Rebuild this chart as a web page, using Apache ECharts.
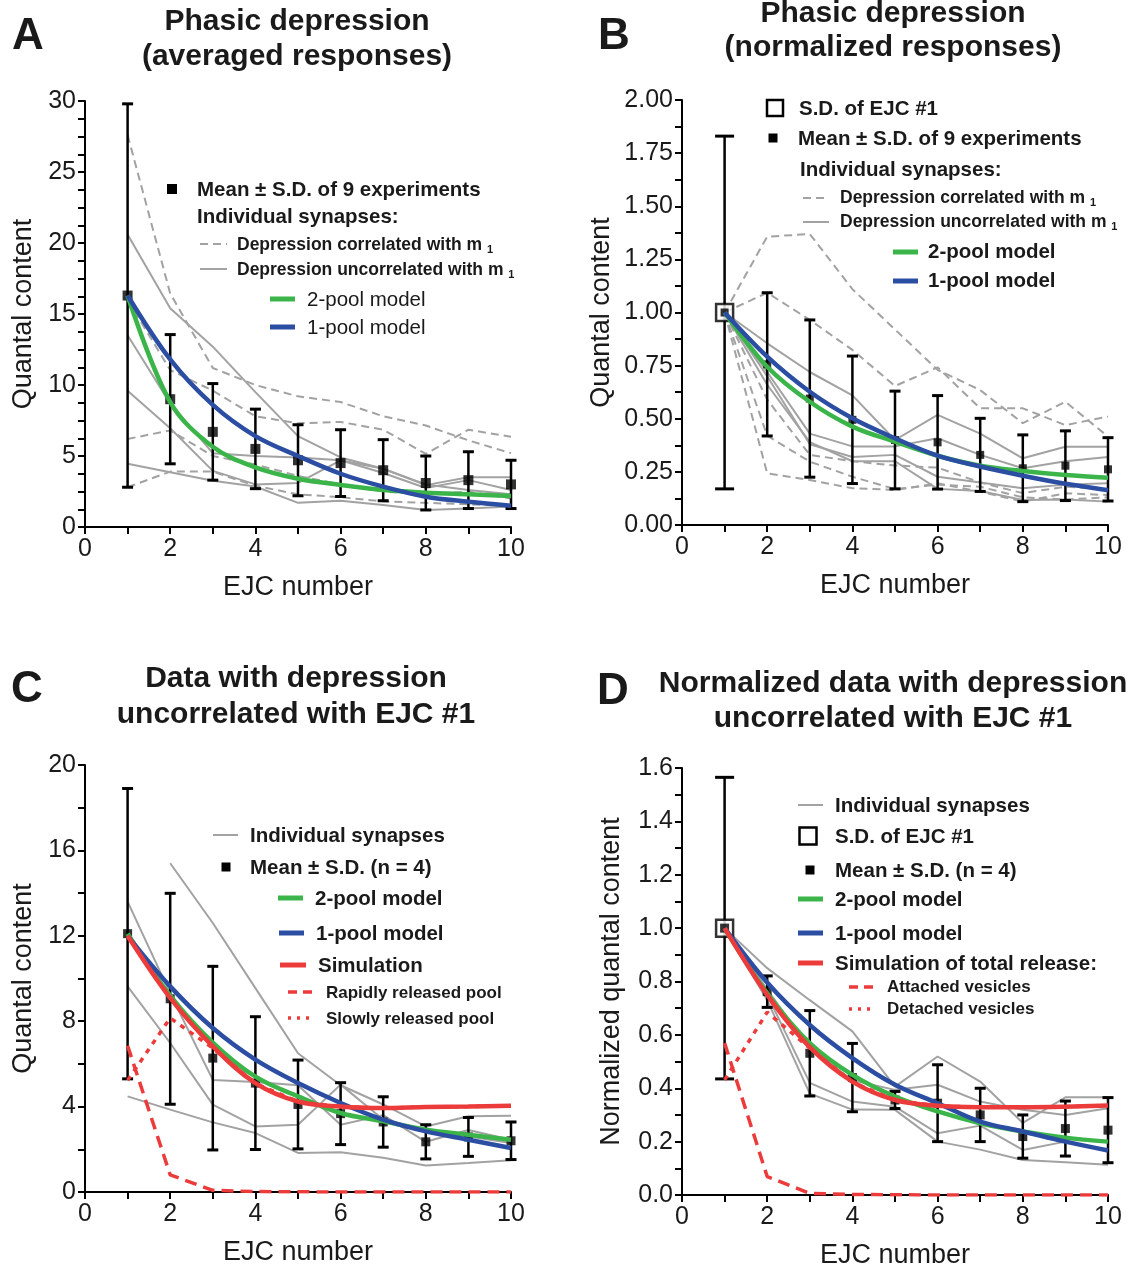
<!DOCTYPE html>
<html><head><meta charset="utf-8">
<script src="https://cdn.jsdelivr.net/npm/echarts/dist/echarts.min.js"></script>
<style>html,body{margin:0;padding:0;background:#fff}#c{width:1133px;height:1270px}</style>
</head><body><div id="c"></div>
<script>
// ---------- DATA ----------
const X = [1, 2, 3, 4, 5, 6, 7, 8, 9, 10];

// Panel A: averaged responses
const aMean = [16.3, 9.0, 6.7, 5.5, 4.7, 4.5, 4.0, 3.1, 3.3, 3.0];
const aSD = [13.5, 4.55, 3.4, 2.8, 2.5, 2.35, 2.15, 1.9, 2.0, 1.7];
const aTwoPool = [16.3, 8.8, 5.65, 4.2, 3.4, 2.96, 2.6, 2.42, 2.3, 2.18];
const aOnePool = [16.3, 11.8, 8.6, 6.4, 5.0, 3.75, 2.84, 2.13, 1.78, 1.5];
const aCorr1 = [27.6, 16.45, 11.2, 10.0, 9.2, 8.8, 7.8, 7.15, 6.1, 5.2];
const aCorr2 = [16.0, 11.05, 9.6, 7.8, 7.3, 7.4, 6.85, 5.15, 6.85, 6.35];
const aCorr3 = [6.2, 6.8, 5.0, 4.4, 3.6, 3.0, 2.5, 2.3, 2.5, 2.0];
const aCorr4 = [2.8, 3.9, 3.9, 2.9, 2.3, 2.1, 1.8, 1.7, 1.6, 1.5];
const aUnc1 = [20.6, 15.4, 12.7, 9.5, 6.4, 4.9, 4.1, 2.95, 3.5, 3.5];
const aUnc2 = [13.5, 8.7, 5.2, 5.0, 4.9, 4.7, 3.8, 2.75, 3.3, 2.6];
const aUnc3 = [9.6, 6.95, 3.95, 3.0, 3.1, 4.7, 4.1, 3.0, 2.6, 2.3];
const aUnc4 = [4.45, 3.85, 3.25, 2.85, 1.7, 1.85, 1.55, 1.2, 1.3, 1.45];

// Panel B: normalized responses
const bMean = [1.0, 0.756, 0.595, 0.495, 0.40, 0.389, 0.33, 0.267, 0.279, 0.262];
const bSD = [0.83, 0.337, 0.37, 0.30, 0.23, 0.22, 0.172, 0.157, 0.164, 0.149];
const bTwoPool = [1.0, 0.745, 0.58, 0.463, 0.392, 0.326, 0.279, 0.254, 0.235, 0.222];
const bOnePool = [1.0, 0.792, 0.627, 0.502, 0.408, 0.326, 0.275, 0.232, 0.194, 0.164];
const bCorr1 = [1, 1.357, 1.369, 1.11, 0.92, 0.73, 0.635, 0.479, 0.58, 0.416];
const bCorr2 = [1, 1.093, 0.965, 0.824, 0.654, 0.742, 0.549, 0.549, 0.47, 0.51];
const bCorr3 = [1, 0.42, 0.298, 0.227, 0.169, 0.19, 0.18, 0.13, 0.12, 0.13];
const bCorr4 = [1, 0.243, 0.212, 0.173, 0.165, 0.196, 0.157, 0.11, 0.149, 0.141];
const bCorr5 = [1, 0.59, 0.33, 0.30, 0.28, 0.27, 0.2, 0.15, 0.18, 0.17];
const bUnc1 = [1, 0.855, 0.72, 0.61, 0.40, 0.518, 0.43, 0.314, 0.368, 0.368];
const bUnc2 = [1, 0.72, 0.43, 0.37, 0.37, 0.408, 0.33, 0.267, 0.30, 0.32];
const bUnc3 = [1, 0.70, 0.38, 0.32, 0.33, 0.227, 0.20, 0.173, 0.19, 0.196];
const bUnc4 = [1, 0.66, 0.39, 0.30, 0.30, 0.17, 0.16, 0.118, 0.12, 0.11];

// Panel C: depression uncorrelated with EJC #1
const cMean = [12.1, 9.05, 6.27, 5.1, 4.1, 3.67, 3.28, 2.35, 2.58, 2.4];
const cSD = [6.8, 4.94, 4.3, 3.11, 2.08, 1.45, 1.18, 0.8, 0.91, 0.88];
const cTwoPool = [12.1, 9.2, 7.0, 5.4, 4.48, 3.7, 3.31, 2.92, 2.68, 2.45];
const cOnePool = [12.0, 9.63, 7.68, 6.2, 5.1, 4.17, 3.39, 2.84, 2.45, 2.06];
const cSim = [12.0, 9.09, 6.82, 5.1, 4.24, 4.0, 3.93, 3.98, 4.0, 4.04];
const cRapid = [6.85, 0.8, 0.08, 0.02, 0.01, 0, 0, 0, 0, 0];
const cSlow = [5.23, 8.15, 6.74, 5.08, 4.23, 4.0, 3.93, 3.98, 4.0, 4.04];
const cUnc1 = [null, 15.4, 12.6, 9.55, 6.5, 5.0, 4.1, 3.07, 3.55, 3.57];
const cUnc2 = [13.6, 9.3, 5.25, 5.15, 5.0, 3.15, 3.6, 2.35, 2.9, 2.45];
const cUnc3 = [9.63, 6.98, 4.09, 3.07, 3.15, 5.03, 3.4, 2.84, 2.6, 2.3];
const cUnc4 = [4.48, 3.86, 3.26, 2.76, 1.83, 1.86, 1.6, 1.24, 1.36, 1.49];

// Panel D: normalized data uncorrelated with EJC #1
const dMean = [1.0, 0.762, 0.531, 0.44, 0.356, 0.344, 0.30, 0.219, 0.249, 0.243];
const dSD = [0.565, 0.059, 0.16, 0.128, 0.032, 0.144, 0.10, 0.081, 0.103, 0.122];
const dTwoPool = [1.0, 0.756, 0.569, 0.45, 0.369, 0.313, 0.269, 0.238, 0.215, 0.2];
const dOnePool = [1.0, 0.796, 0.637, 0.513, 0.413, 0.344, 0.275, 0.238, 0.2, 0.167];
const dSim = [1.0, 0.75, 0.554, 0.425, 0.356, 0.334, 0.329, 0.329, 0.331, 0.335];
const dAttached = [0.569, 0.069, 0.006, 0.002, 0.001, 0, 0, 0, 0, 0];
const dDetached = [0.431, 0.685, 0.55, 0.423, 0.355, 0.334, 0.329, 0.329, 0.331, 0.335];
const dUnc1 = [1, 0.85, 0.73, 0.613, 0.406, 0.519, 0.425, 0.27, 0.366, 0.366];
const dUnc2 = [1, 0.77, 0.55, 0.43, 0.394, 0.413, 0.35, 0.319, 0.30, 0.325];
const dUnc3 = [1, 0.75, 0.42, 0.35, 0.331, 0.231, 0.26, 0.169, 0.20, 0.17];
const dUnc4 = [1, 0.73, 0.38, 0.32, 0.319, 0.20, 0.17, 0.131, 0.123, 0.113];

// ---------- STYLE ----------
const FONT = '"Liberation Sans", Arial, Helvetica, sans-serif';
const GRAY = '#a2a2a2', GREEN = '#3bb54a', BLUE = '#2b4ea2', RED = '#ec3b3b', INK = '#1a1a1a';
const GDASH = [8, 5], RDASH = [12, 7], RDOT = [5, 6];

const grids = [
  {left: 85, top: 101, width: 426, height: 426},
  {left: 682, top: 100, width: 426, height: 425},
  {left: 85, top: 765, width: 426, height: 427},
  {left: 682, top: 768, width: 426, height: 427}
];

function xAx(g) {
  return {
    type: 'value', gridIndex: g, min: 0, max: 10, interval: 1,
    axisLine: {lineStyle: {color: '#000', width: 2}},
    axisTick: {length: 7, lineStyle: {color: '#000', width: 2}},
    axisLabel: {formatter: v => (v % 2 === 0 ? String(v) : ''), fontSize: 25, color: INK, fontFamily: FONT, margin: 10},
    splitLine: {show: false},
    name: 'EJC number', nameLocation: 'middle', nameGap: 47,
    nameTextStyle: {fontSize: 27, color: INK, fontFamily: FONT}
  };
}
function yAx(g, max, interval, minorSplit, name, dec, gap) {
  return {
    type: 'value', gridIndex: g, min: 0, max: max, interval: interval,
    axisLine: {show: true, lineStyle: {color: '#000', width: 2}},
    axisTick: {show: true, length: 7, lineStyle: {color: '#000', width: 2}},
    minorTick: {show: true, splitNumber: minorSplit, length: 7, lineStyle: {color: '#000', width: 2}},
    axisLabel: {formatter: v => v.toFixed(dec), fontSize: 25, color: INK, fontFamily: FONT, margin: 9},
    splitLine: {show: false},
    name: name, nameLocation: 'middle', nameGap: gap, nameRotate: 90,
    nameTextStyle: {fontSize: 27, color: INK, fontFamily: FONT}
  };
}

function pts(arr) { return X.map((x, i) => [x, arr[i]]); }
function ln(g, arr, color, width, dash, smooth, z) {
  return {
    type: 'line', xAxisIndex: g, yAxisIndex: g, data: pts(arr), symbol: 'none', showSymbol: false,
    smooth: smooth ? 0.35 : false, connectNulls: false,
    lineStyle: {color: color, width: width, type: dash || 'solid'}, z: z, silent: true, animation: false
  };
}
function errBars(g, mean, sd, firstCap) {
  return {
    type: 'custom', xAxisIndex: g, yAxisIndex: g, z: 4, silent: true, animation: false,
    encode: {x: 0, y: [1, 2]},
    data: X.map((x, i) => [x, mean[i] - sd[i], mean[i] + sd[i], i]),
    renderItem: function (params, api) {
      const x = api.value(0), lo = api.value(1), hi = api.value(2), i = api.value(3);
      const a = api.coord([x, lo]), b = api.coord([x, hi]);
      const w = (i === 0 && firstCap) ? firstCap : 5.5;
      return {type: 'group', children: [
        {type: 'line', shape: {x1: a[0], y1: a[1], x2: b[0], y2: b[1]}, style: {stroke: '#000', lineWidth: 2.5}},
        {type: 'line', shape: {x1: a[0] - w, y1: a[1], x2: a[0] + w, y2: a[1]}, style: {stroke: '#000', lineWidth: 3}},
        {type: 'line', shape: {x1: b[0] - w, y1: b[1], x2: b[0] + w, y2: b[1]}, style: {stroke: '#000', lineWidth: 3}}
      ]};
    }
  };
}
function means(g, mean, size) {
  return {type: 'scatter', xAxisIndex: g, yAxisIndex: g, data: pts(mean), symbol: 'rect', symbolSize: size,
    itemStyle: {color: '#000'}, z: 6, silent: true, animation: false};
}
function openSq(g, mean, size) {
  return {type: 'scatter', xAxisIndex: g, yAxisIndex: g, data: [[X[0], mean[0]]], symbol: 'rect', symbolSize: size,
    itemStyle: {color: '#fff', borderColor: '#000', borderWidth: 2.5}, z: 5, silent: true, animation: false};
}

const series = [];
// Panel A
[aCorr1, aCorr2, aCorr3, aCorr4].forEach(a => series.push(ln(0, a, GRAY, 2, GDASH, false, 2)));
[aUnc1, aUnc2, aUnc3, aUnc4].forEach(a => series.push(ln(0, a, GRAY, 2, 'solid', false, 2)));
series.push(errBars(0, aMean, aSD), means(0, aMean, 10));
series.push(ln(0, aTwoPool, GREEN, 4.5, 'solid', true, 7), ln(0, aOnePool, BLUE, 4.5, 'solid', true, 8));
// Panel B
[bCorr1, bCorr2, bCorr3, bCorr4, bCorr5].forEach(a => series.push(ln(1, a, GRAY, 2, GDASH, false, 2)));
[bUnc1, bUnc2, bUnc3, bUnc4].forEach(a => series.push(ln(1, a, GRAY, 2, 'solid', false, 2)));
series.push(errBars(1, bMean, bSD, 9.5), openSq(1, bMean, 17), means(1, bMean, 8));
series.push(ln(1, bTwoPool, GREEN, 4.5, 'solid', true, 7), ln(1, bOnePool, BLUE, 4.5, 'solid', true, 8));
// Panel C
[cUnc1, cUnc2, cUnc3, cUnc4].forEach(a => series.push(ln(2, a, GRAY, 2, 'solid', false, 2)));
series.push(errBars(2, cMean, cSD), means(2, cMean, 9));
series.push(ln(2, cTwoPool, GREEN, 4.5, 'solid', true, 7), ln(2, cOnePool, BLUE, 4.5, 'solid', true, 8),
  ln(2, cSim, RED, 4.5, 'solid', true, 9), ln(2, cRapid, RED, 3.5, RDASH, false, 9), ln(2, cSlow, RED, 3.5, RDOT, false, 9));
// Panel D
[dUnc1, dUnc2, dUnc3, dUnc4].forEach(a => series.push(ln(3, a, GRAY, 2, 'solid', false, 2)));
series.push(errBars(3, dMean, dSD, 9.5), openSq(3, dMean, 17), means(3, dMean, 9));
series.push(ln(3, dTwoPool, GREEN, 4.5, 'solid', true, 7), ln(3, dOnePool, BLUE, 4.5, 'solid', true, 8),
  ln(3, dSim, RED, 4.5, 'solid', true, 9), ln(3, dAttached, RED, 3.5, RDASH, false, 9), ln(3, dDetached, RED, 3.5, RDOT, false, 9));

// ---------- GRAPHIC (titles, letters, legends) ----------
function txt(x, y, text, size, bold, align) {
  return {type: 'text', x: x, y: y, z: 100, silent: true,
    style: {text: text, fontSize: size, fontWeight: bold ? 'bold' : 'normal', fontFamily: FONT, fill: INK,
      align: align || 'left', verticalAlign: 'middle', textAlign: align || 'left', textVerticalAlign: 'middle'}};
}
function subTxt(x, y, text, size) {
  return {type: 'text', x: x, y: y, z: 100, silent: true,
    style: {text: text + ' {s|1}', fontSize: size, fontWeight: 'bold', fontFamily: FONT, fill: INK,
      align: 'left', verticalAlign: 'middle', textAlign: 'left', textVerticalAlign: 'middle',
      rich: {s: {fontSize: 11, fontWeight: 'bold', fontFamily: FONT, fill: INK, padding: [10, 0, 0, 0]}}}};
}
function gl(x1, x2, y, color, w, dash) {
  return {type: 'line', z: 100, silent: true, shape: {x1: x1, y1: y, x2: x2, y2: y},
    style: {stroke: color, lineWidth: w, lineDash: dash || null}};
}
function sq(cx, cy, s, open) {
  return {type: 'rect', z: 100, silent: true, shape: {x: cx - s / 2, y: cy - s / 2, width: s, height: s},
    style: open ? {fill: '#fff', stroke: '#000', lineWidth: 2.5} : {fill: '#000'}};
}

const graphic = [
  // letters
  txt(28, 37, 'A', 44, true, 'center'), txt(614, 37, 'B', 44, true, 'center'),
  txt(27, 690, 'C', 44, true, 'center'), txt(613, 692, 'D', 44, true, 'center'),
  // titles
  txt(297, 22, 'Phasic depression', 30, true, 'center'), txt(297, 57, '(averaged responses)', 30, true, 'center'),
  txt(893, 14, 'Phasic depression', 30, true, 'center'), txt(893, 48, '(normalized responses)', 30, true, 'center'),
  txt(296, 679, 'Data with depression', 30, true, 'center'), txt(296, 715, 'uncorrelated with EJC #1', 30, true, 'center'),
  txt(893, 684, 'Normalized data with depression', 30, true, 'center'), txt(893, 719, 'uncorrelated with EJC #1', 30, true, 'center'),
  // legend A
  sq(172, 189, 10), txt(197, 190, 'Mean ± S.D. of 9 experiments', 20.5, true),
  txt(197, 217, 'Individual synapses:', 20.5, true),
  gl(200, 227, 244, GRAY, 2, GDASH), subTxt(237, 245, 'Depression correlated with m', 17.5),
  gl(200, 227, 269, GRAY, 2), subTxt(237, 270, 'Depression uncorrelated with m', 17.5),
  gl(270, 295, 299, GREEN, 5), txt(307, 300, '2-pool model', 20.5, false),
  gl(270, 295, 327, BLUE, 5), txt(307, 328, '1-pool model', 20.5, false),
  // legend B
  sq(775, 108, 16, true), txt(799, 109, 'S.D. of EJC #1', 20.5, true),
  sq(773, 138, 9), txt(798, 139, 'Mean ± S.D. of 9 experiments', 20.5, true),
  txt(800, 170, 'Individual synapses:', 20.5, true),
  gl(803, 829, 198, GRAY, 2, GDASH), subTxt(840, 198, 'Depression correlated with m', 17.5),
  gl(803, 829, 222, GRAY, 2), subTxt(840, 222, 'Depression uncorrelated with m', 17.5),
  gl(893, 918, 252, GREEN, 5), txt(928, 252, '2-pool model', 20.5, true),
  gl(893, 918, 281, BLUE, 5), txt(928, 281, '1-pool model', 20.5, true),
  // legend C
  gl(213, 238, 835, GRAY, 2), txt(250, 836, 'Individual synapses', 20.5, true),
  sq(226, 867, 9), txt(250, 868, 'Mean ± S.D. (n = 4)', 20.5, true),
  gl(278, 303, 898, GREEN, 5), txt(315, 899, '2-pool model', 20.5, true),
  gl(279, 304, 933, BLUE, 5), txt(316, 934, '1-pool model', 20.5, true),
  gl(280, 306, 965, RED, 5), txt(318, 966, 'Simulation', 20.5, true),
  gl(288, 314, 992, RED, 3.5, [9, 6]), txt(326, 993, 'Rapidly released pool', 17, true),
  gl(288, 314, 1018, RED, 3.5, [3, 6]), txt(326, 1019, 'Slowly released pool', 17, true),
  // legend D
  gl(798, 823, 805, GRAY, 2), txt(835, 806, 'Individual synapses', 20.5, true),
  sq(808, 836, 17, true), txt(835, 837, 'S.D. of EJC #1', 20.5, true),
  sq(810, 870, 9), txt(835, 871, 'Mean ± S.D. (n = 4)', 20.5, true),
  gl(798, 823, 899, GREEN, 5), txt(835, 900, '2-pool model', 20.5, true),
  gl(798, 823, 933, BLUE, 5), txt(835, 934, '1-pool model', 20.5, true),
  gl(798, 823, 963, RED, 5), txt(835, 964, 'Simulation of total release:', 20.5, true),
  gl(849, 875, 987, RED, 3.5, [9, 6]), txt(887, 987, 'Attached vesicles', 17, true),
  gl(849, 875, 1009, RED, 3.5, [3, 6]), txt(887, 1009, 'Detached vesicles', 17, true)
];

const chart = echarts.init(document.getElementById('c'), null, {renderer: 'canvas'});
chart.setOption({
  backgroundColor: '#fff',
  animation: false,
  grid: grids,
  xAxis: [xAx(0), xAx(1), xAx(2), xAx(3)],
  yAxis: [
    yAx(0, 30, 5, 4, 'Quantal content', 0, 48),
    yAx(1, 2, 0.25, 2, 'Quantal content', 2, 67),
    yAx(2, 20, 4, 2, 'Quantal content', 0, 48),
    yAx(3, 1.6, 0.2, 2, 'Normalized quantal content', 1, 57)
  ],
  series: series,
  graphic: graphic
});
</script></body></html>
